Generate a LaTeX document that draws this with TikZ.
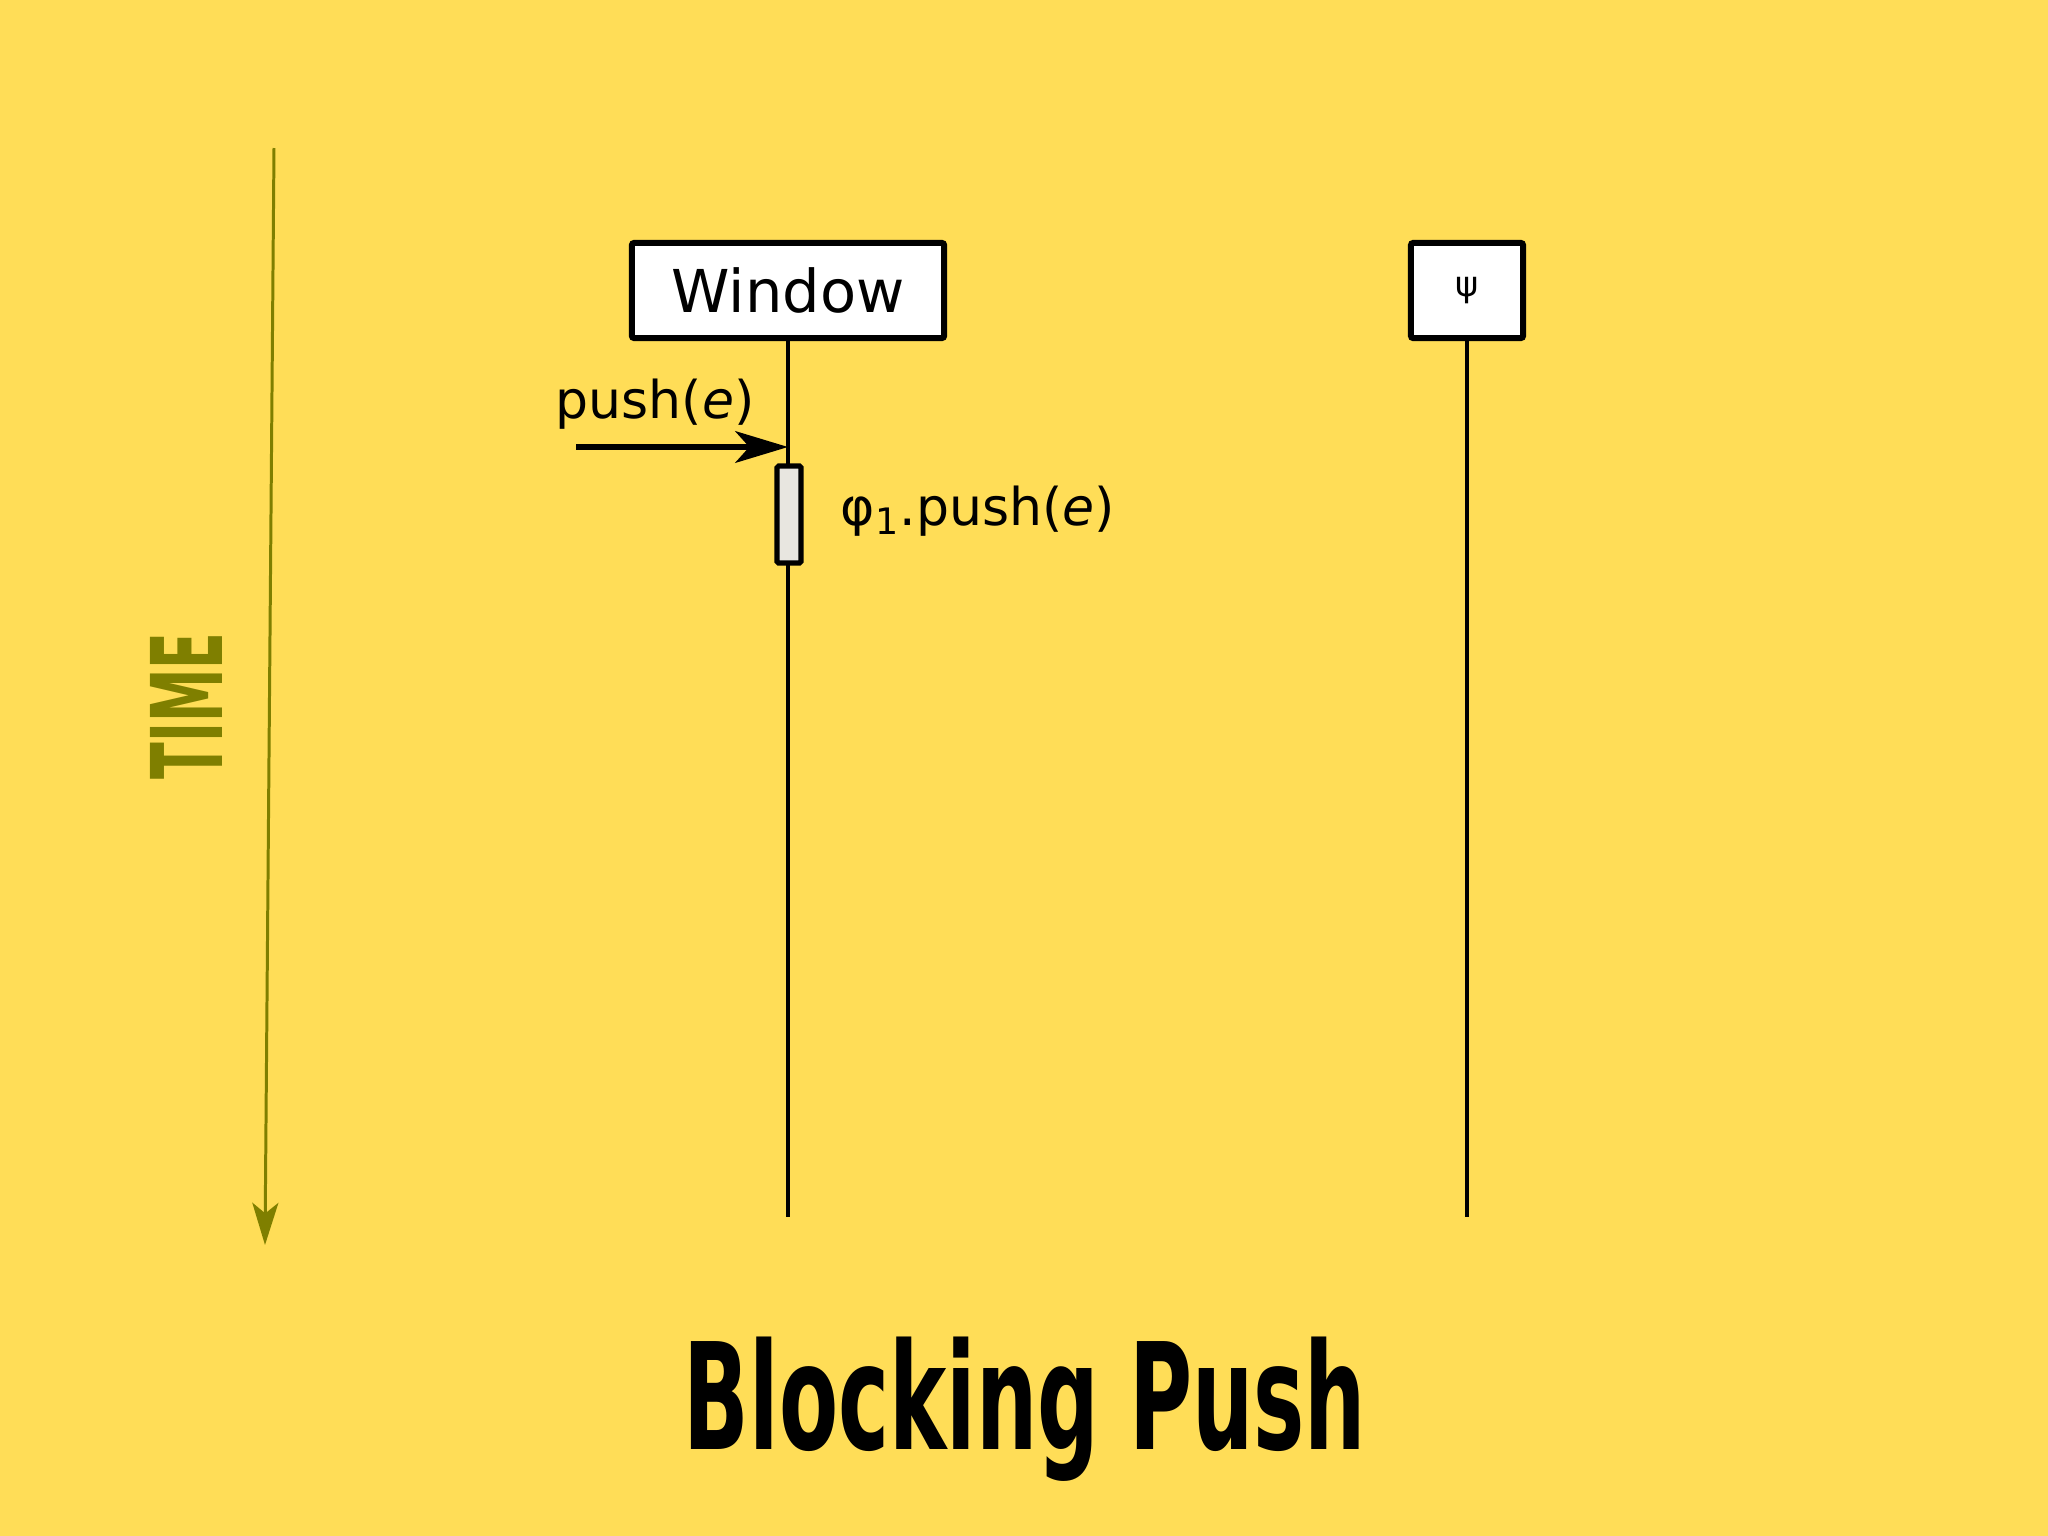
\documentclass[tikz,border=0pt]{standalone}
\usepackage{fontspec}
\setmainfont{DejaVu Sans}
\usetikzlibrary{arrows.meta}
\definecolor{bgyellow}{HTML}{FFDD57}
\definecolor{olive}{HTML}{7F7F00}
\definecolor{actgray}{HTML}{E8E6E0}
\tikzset{
  objbox/.style={draw=black, fill=white, line width=1.7pt, inner sep=0pt, rounded corners=0.6pt},
  lifeline/.style={line width=1.4pt, draw=black},
  actbox/.style={draw=black, fill=actgray, line width=1.5pt, inner sep=0pt, minimum width=0.24cm, minimum height=0.97cm, rounded corners=0.5pt},
  msgarrow/.style={line width=1.6pt, -{Stealth[length=15pt, width=9pt, inset=4pt]}},
  timearrow/.style={olive, line width=0.85pt, -{Stealth[length=12pt, width=7.4pt, inset=3pt]}},
  lbl/.style={inner sep=0pt, font=\fontsize{14.8pt}{17pt}\selectfont}
}
\begin{document}
\begin{tikzpicture}[x=0.01cm, y=-0.01cm]
\useasboundingbox[fill=bgyellow] (0,0) rectangle (2048,1536);
% time axis
\coordinate (tstart) at (274,148);
\coordinate (tend) at (265,1245);
\draw[timearrow] (tstart) -- (tend);
\node[olive, rotate=90, inner sep=0pt] (time) at (186,706) {\resizebox{41.8pt}{20.5pt}{\bfseries TIME}};
% objects
\node[objbox, minimum width=3.12cm, minimum height=0.95cm, font=\fontsize{16.8pt}{18pt}\selectfont] (win) at (788,290.5) {Window};
\node[objbox, minimum width=1.12cm, minimum height=0.95cm, font=\fontsize{10pt}{12pt}\selectfont] (psi) at (1467,290.5) {ψ};
\coordinate (winend) at (788,1217);
\coordinate (psiend) at (1467,1217);
\draw[lifeline] (win.south) -- (winend);
\draw[lifeline] (psi.south) -- (psiend);
% message
\coordinate (msgstart) at (576,447);
\coordinate (msgend) at (788,447);
\draw[msgarrow] (msgstart) -- (msgend);
\node[lbl, anchor=base west] (pushlbl) at (555,418) {push(\textit{e})};
% activation
\node[actbox] (act) at (789,514.5) {};
\node[lbl, anchor=base west] (actlbl) at (840,525) {φ\textsubscript{1}.push(\textit{e})};
% title
\node[inner sep=0pt, anchor=base] (title) at (1025,1449) {\resizebox{194pt}{32pt}{\bfseries Blocking Push}};
\end{tikzpicture}
\end{document}
